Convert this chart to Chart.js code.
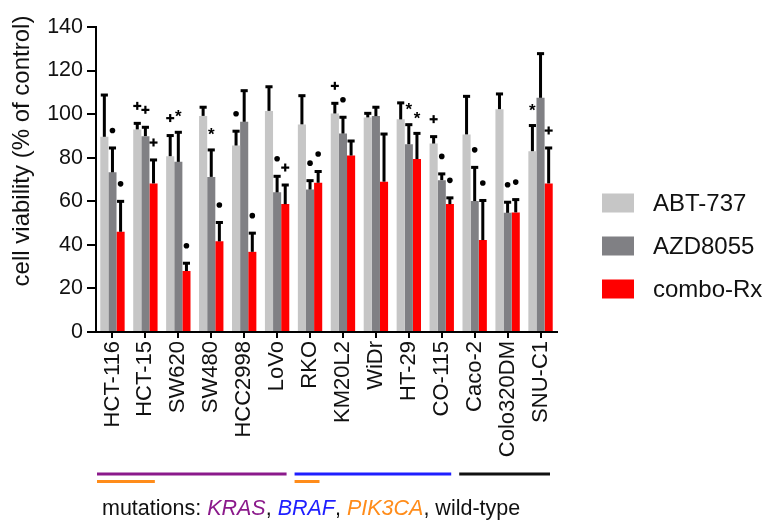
<!DOCTYPE html>
<html>
<head>
<meta charset="utf-8">
<script src="https://cdn.jsdelivr.net/npm/chart.js@4/dist/chart.umd.min.js"></script>
<style>
html,body{margin:0;padding:0;background:#fff;}
#wrap{width:767px;height:520px;}
</style>
</head>
<body>
<div id="wrap"><canvas id="c" width="767" height="520"></canvas></div>
<script>
// ---- data ----
const cellLines = ['HCT-116','HCT-15','SW620','SW480','HCC2998','LoVo','RKO','KM20L2','WiDr','HT-29','CO-115','Caco-2','Colo320DM','SNU-C1'];
const seriesNames = ['ABT-737','AZD8055','combo-Rx'];
const abt   = [89.6, 93.0, 80.7, 99.2, 85.6, 101.5, 95.3, 100.3, 98.5, 97.6, 86.5, 90.7, 102.3, 83.0];
const abtSd = [19.4, 3.0, 9.7, 4.2, 6.8, 11.3, 13.4, 4.9, 2.1, 7.8, 3.4, 17.7, 7.2, 12.0];
const azd   = [73.3, 89.9, 78.1, 71.2, 96.5, 64.1, 65.4, 91.1, 99.1, 86.2, 69.7, 60.1, 54.7, 107.5];
const azdSd = [11.4, 4.3, 13.8, 12.6, 14.5, 7.6, 4.3, 7.7, 4.3, 9.2, 3.1, 15.7, 5.1, 20.5];
const combo   = [46.0, 68.2, 28.0, 41.6, 36.8, 58.7, 68.5, 81.0, 69.0, 79.4, 58.7, 42.2, 54.9, 68.2];
const comboSd = [14.2, 11.0, 3.8, 8.9, 8.8, 9.0, 5.4, 6.9, 22.1, 12.0, 3.1, 18.4, 6.1, 16.5];
const abtSig   = ['', '+', '+', '', '•', '', '', '+', '', '', '+', '', '', '*'];
const azdSig   = ['•', '+', '*', '*', '', '•', '•', '•', '', '*', '•', '•', '•', ''];
const comboSig = ['•', '+', '•', '•', '•', '+', '•', '', '', '*', '•', '•', '•', '+'];
const yTicks = [0, 20, 40, 60, 80, 100, 120, 140];
// mutation groups: [first index, last index]
const krasGroup = [0, 5];
const brafGroup = [6, 10];
const wtGroup = [11, 13];
const pik3caGroups = [[0, 1], [6, 6]];
const yTitle = 'cell viability (% of control)';

const colors = ['#c6c6c6', '#808084', '#ff0000'];
const FONT = "'Liberation Sans', Arial, sans-serif";

const sdList = [abtSd, azdSd, comboSd];
const sigList = [abtSig, azdSig, comboSig];

const annot = {
  id: 'annot',
  afterDatasetsDraw(chart) {
    const ctx = chart.ctx;
    const y = chart.scales.y;
    ctx.save();
    chart.data.datasets.forEach((ds, di) => {
      const meta = chart.getDatasetMeta(di);
      meta.data.forEach((bar, i) => {
        const top = y.getPixelForValue(ds.data[i] + sdList[di][i]);
        const x = bar.x;
        const w = bar.width;
        ctx.fillStyle = '#000';
        ctx.fillRect(x - 1.5, top, 3, bar.y - top);
        ctx.fillRect(x - w / 2 + 0.5, top - 1, w - 1, 3);
        const s = sigList[di][i];
        const my = top - 17;
        if (s === '•') {
          ctx.beginPath(); ctx.arc(x, my, 2.8, 0, Math.PI * 2); ctx.fill();
        } else if (s === '+') {
          ctx.fillRect(x - 4, my - 1, 8, 2.2);
          ctx.fillRect(x - 1.1, my - 4, 2.2, 8);
        } else if (s === '*') {
          ctx.font = 'bold 17px ' + FONT;
          ctx.textAlign = 'center';
          ctx.textBaseline = 'middle';
          ctx.fillText('*', x, my + 3);
        }
      });
    });
    ctx.restore();
  },
  afterDraw(chart) {
    const ctx = chart.ctx;
    const xs = chart.scales.x;
    const half = (xs.getPixelForValue(1) - xs.getPixelForValue(0)) / 2;
    ctx.save();
    const seg = (g, col, yy) => {
      const x0 = xs.getPixelForValue(g[0]) - half + 1;
      const x1 = xs.getPixelForValue(g[1]) + half - 7;
      ctx.strokeStyle = col; ctx.lineWidth = 3;
      ctx.beginPath(); ctx.moveTo(x0, yy); ctx.lineTo(x1, yy); ctx.stroke();
    };
    seg(krasGroup, '#8b1a8b', 474);
    seg(brafGroup, '#1f1fff', 474);
    seg(wtGroup, '#111111', 474);
    pik3caGroups.forEach(g => seg(g, '#ff8c1a', 481.5));
    // mutation caption
    ctx.textBaseline = 'alphabetic';
    ctx.textAlign = 'left';
    let cx = 102;
    const by = 515;
    const parts = [
      ['mutations: ', '#111', false], ['KRAS', '#8b1a8b', true], [', ', '#111', false],
      ['BRAF', '#1f1fff', true], [', ', '#111', false], ['PIK3CA', '#ff8c1a', true],
      [', wild-type', '#111', false]
    ];
    parts.forEach(p => {
      ctx.font = (p[2] ? 'italic ' : '') + '21.5px ' + FONT;
      ctx.fillStyle = p[1];
      ctx.fillText(p[0], cx, by);
      cx += ctx.measureText(p[0]).width;
    });
    // y title
    ctx.save();
    ctx.translate(22, 151);
    ctx.rotate(-Math.PI / 2);
    ctx.font = '24px ' + FONT;
    ctx.fillStyle = '#111';
    ctx.textAlign = 'center';
    ctx.textBaseline = 'middle';
    ctx.fillText(yTitle, 0, 0);
    ctx.restore();
    // legend
    seriesNames.forEach((n, i) => {
      const cy = 203 + 43 * i;
      ctx.fillStyle = colors[i];
      ctx.fillRect(602, cy - 9.5, 32, 19);
      ctx.fillStyle = '#111';
      ctx.font = '24px ' + FONT;
      ctx.textBaseline = 'middle';
      ctx.fillText(n, 653, cy + 1);
    });
    ctx.restore();
  }
};

new Chart(document.getElementById('c'), {
  type: 'bar',
  data: {
    labels: cellLines,
    datasets: [
      { label: seriesNames[0], data: abt, backgroundColor: colors[0] },
      { label: seriesNames[1], data: azd, backgroundColor: colors[1] },
      { label: seriesNames[2], data: combo, backgroundColor: colors[2] }
    ]
  },
  options: {
    responsive: false,
    devicePixelRatio: 1,
    animation: false,
    datasets: { bar: { categoryPercentage: 0.74, barPercentage: 1.0 } },
    layout: { padding: { top: 27, right: 210, bottom: 0, left: 0 } },
    plugins: { legend: { display: false }, tooltip: { enabled: false } },
    scales: {
      x: {
        grid: { display: true, drawOnChartArea: false, offset: false, tickLength: 6, color: '#000', lineWidth: 2 },
        border: { display: true, color: '#000', width: 2 },
        ticks: { minRotation: 90, maxRotation: 90, autoSkip: false, padding: 3, color: '#111', font: { family: FONT, size: 22 } },
        afterFit(s) { s.height = 188; }
      },
      y: {
        min: 0, max: 140,
        afterBuildTicks(s) { s.ticks = yTicks.map(v => ({ value: v })); },
        grid: { display: true, drawOnChartArea: false, tickLength: 9, color: '#000', lineWidth: 2 },
        border: { display: true, color: '#000', width: 2 },
        ticks: { padding: 4, color: '#111', font: { family: FONT, size: 21.5 } },
        afterFit(s) { s.width = 96; }
      }
    }
  },
  plugins: [annot]
});
</script>
</body>
</html>
